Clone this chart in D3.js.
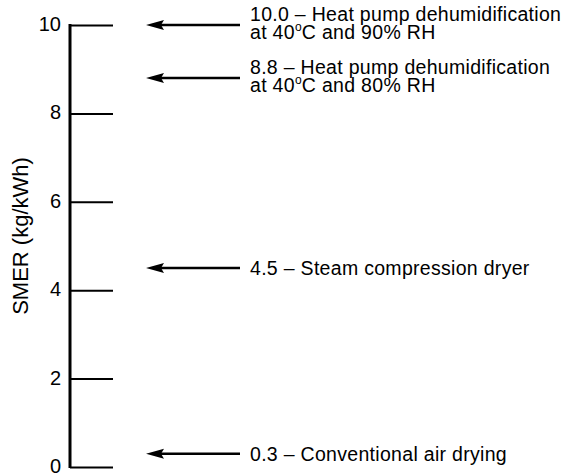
<!DOCTYPE html>
<html><head><meta charset="utf-8">
<script src="https://cdn.jsdelivr.net/npm/d3@7/dist/d3.min.js"></script>
<style>body{margin:0;background:#fff;} text{font-family:"Liberation Sans",Arial,Helvetica,sans-serif;fill:#000;}</style>
</head><body>
<script>
const tickValues = [0, 2, 4, 6, 8, 10];
const values = [10.0, 8.8, 4.5, 0.3];
const labelLine1 = ["10.0 \u2013 Heat pump dehumidification", "8.8 \u2013 Heat pump dehumidification", "4.5 \u2013 Steam compression dryer", "0.3 \u2013 Conventional air drying"];
const labelLine2 = ["at 40\u00b0C and 90% RH", "at 40\u00b0C and 80% RH", "", ""];
const axisTitle = "SMER (kg/kWh)";

const W = 564, H = 474;
const svg = d3.select("body").append("svg").attr("width", W).attr("height", H);
const y = d3.scaleLinear().domain([0, 10]).range([467, 25]);
const axisX = 70;

// axis
const g = svg.append("g").attr("transform", `translate(${axisX},0)`);
const axis = d3.axisRight(y).tickValues(tickValues).tickSize(43).tickFormat("");
g.call(axis);
g.select(".domain").remove();
g.selectAll(".tick line").attr("stroke", "#000").attr("stroke-width", 2);
g.append("line").attr("x1", 0).attr("x2", 0).attr("y1", y(0) + 1).attr("y2", y(10) - 1)
  .attr("stroke", "#000").attr("stroke-width", 3);

// tick labels
svg.append("g").selectAll("text").data(tickValues).join("text")
  .attr("x", axisX - 9).attr("y", d => y(d)).attr("dy", "0.3em")
  .attr("text-anchor", "end").attr("font-size", 20).text(d => d);

// axis title
svg.append("text").attr("transform", `translate(28,${236}) rotate(-90)`)
  .attr("text-anchor", "middle").attr("font-size", 22).text(axisTitle);

// arrows
const ann = svg.append("g").selectAll("g").data(values).join("g");
ann.append("line").attr("x1", 240).attr("x2", 158).attr("y1", d => y(d)).attr("y2", d => y(d))
  .attr("stroke", "#000").attr("stroke-width", 2.5);
ann.append("path")
  .attr("d", d => `M146,${y(d)} L164,${y(d) - 5} L161,${y(d)} L164,${y(d) + 5} Z`)
  .attr("fill", "#000");

ann.each(function(d, i) {
  const sel = d3.select(this);
  const two = labelLine2[i] !== "";
  const fs = 19.5, ls = 0.3;
  if (two) {
    sel.append("text").attr("x", 250).attr("y", y(d) - 4).attr("font-size", fs)
      .attr("letter-spacing", ls).text(labelLine1[i]);
    const t2 = sel.append("text").attr("x", 250).attr("y", y(d) + 14).attr("font-size", fs)
      .attr("letter-spacing", ls);
    const parts = labelLine2[i].split("\u00b0");
    t2.append("tspan").text(parts[0]);
    t2.append("tspan").attr("font-size", 12).attr("dy", -8).text("o");
    t2.append("tspan").attr("dy", 8).text(parts[1]);
  } else {
    sel.append("text").attr("x", 250).attr("y", y(d)).attr("dy", "0.36em").attr("font-size", fs)
      .attr("letter-spacing", ls).text(labelLine1[i]);
  }
});
</script>
</body></html>
